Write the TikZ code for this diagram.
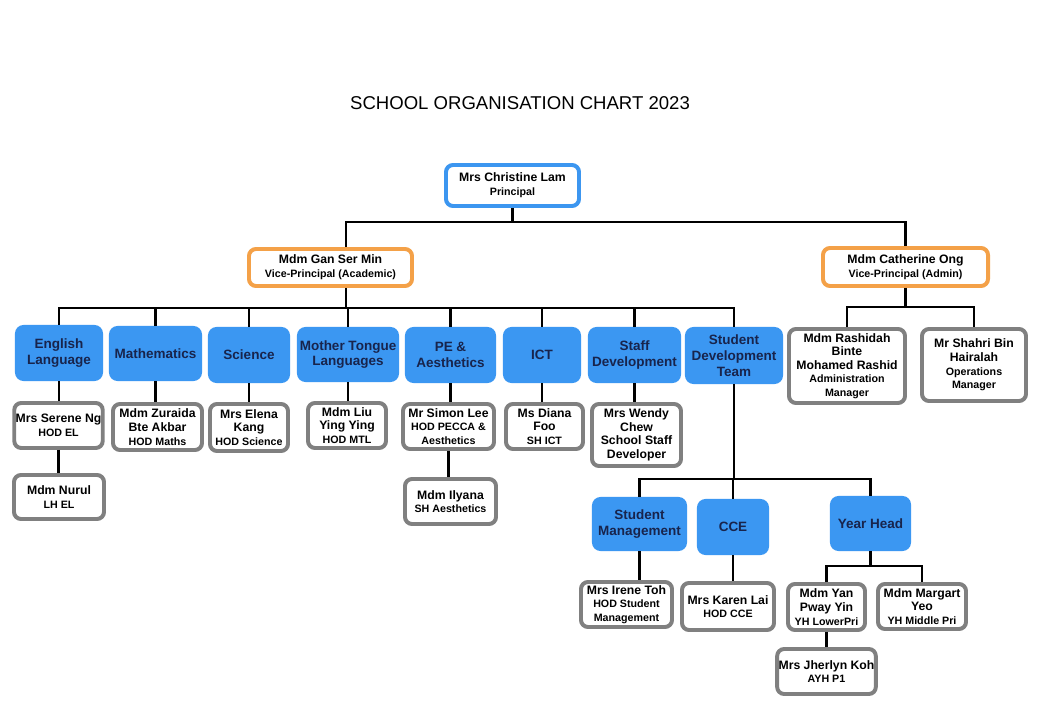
\documentclass[tikz,border=0pt]{standalone}
\usepackage{fontspec}
\setmainfont{Liberation Sans}
\usepackage{xcolor}
\definecolor{deptblue}{RGB}{59,151,242}
\definecolor{headblue}{RGB}{60,150,240}
\definecolor{vporange}{RGB}{244,161,72}
\definecolor{boxgray}{RGB}{128,128,128}
\definecolor{deptnavy}{RGB}{24,36,76}
\newcommand{\pname}[1]{{\fontsize{8.7}{9.7}\selectfont #1}}
\newcommand{\prole}[1]{{\fontsize{7.6}{9}\selectfont #1}}

\begin{document}
\begin{tikzpicture}[x=0.025cm, y=-0.025cm,
	box/.style={shape=rectangle, rounded corners=5pt, line width=2.8pt, fill=white, align=center, inner sep=1pt, font=\bfseries\fontsize{8.7}{9.7}\selectfont},
	lead/.style={box, draw=headblue},
	vp/.style={box, draw=vporange},
	staff/.style={box, draw=boxgray},
	dept/.style={shape=rectangle, rounded corners=6pt, fill=deptblue, align=center, inner sep=1pt, text=deptnavy, font=\bfseries\fontsize{9.6}{11.2}\selectfont},
	wire/.style={line width=1.6pt}]
	\fill[white] (0, 0) rectangle (1040, 720);
	\useasboundingbox (0, 0) rectangle (1040, 720);
	% Title:
	\node[font=\fontsize{13.2}{15}\selectfont] (title) at (520, 103){SCHOOL ORGANISATION CHART 2023};
	% Principal and vice-principals:
	\node[lead, minimum width=3.325cm, minimum height=1.025cm] (princ) at (512.5, 185.5){\pname{Mrs Christine Lam}\\\prole{Principal}};
	\node[vp, minimum width=4.075cm, minimum height=0.925cm] (vpa) at (330.5, 267.5){\pname{Mdm Gan Ser Min}\\\prole{Vice-Principal (Academic)}};
	\node[vp, minimum width=4.125cm, minimum height=0.95cm] (vpb) at (905.5, 267){\pname{Mdm Catherine Ong}\\\prole{Vice-Principal (Admin)}};
	% Departments:
	\node[dept, minimum width=2.2cm, minimum height=1.4cm] (eng) at (59, 353){English\\Language};
	\node[dept, minimum width=2.325cm, minimum height=1.375cm] (maths) at (155.5, 353.5){Mathematics};
	\node[dept, minimum width=2.05cm, minimum height=1.4cm] (sci) at (249, 355){Science};
	\node[dept, minimum width=2.55cm, minimum height=1.375cm] (mtl) at (348, 354.5){Mother Tongue\\Languages};
	\node[dept, minimum width=2.275cm, minimum height=1.4cm] (pe) at (450.5, 355){PE \&\\Aesthetics};
	\node[dept, minimum width=1.95cm, minimum height=1.4cm] (ict) at (542, 355){ICT};
	\node[dept, minimum width=2.325cm, minimum height=1.4cm] (stdev) at (634.5, 355){Staff\\Development};
	\node[dept, minimum width=2.45cm, minimum height=1.425cm] (sdt) at (734, 355.5){Student\\Development\\Team};
	\node[dept, minimum width=2.375cm, minimum height=1.35cm] (stm) at (639.5, 524){Student\\Management};
	\node[dept, minimum width=1.8cm, minimum height=1.4cm] (cce) at (733, 527){CCE};
	\node[dept, minimum width=2.025cm, minimum height=1.375cm] (yh) at (870.5, 523.5){Year Head};
	% Staff:
	\node[staff, minimum width=2.175cm, minimum height=1.125cm] (serene) at (58.5, 425.5){\pname{Mrs Serene Ng}\\\prole{HOD EL}};
	\node[staff, minimum width=2.25cm, minimum height=1.1cm] (nurul) at (59, 497){\pname{Mdm Nurul}\\\prole{LH EL}};
	\node[staff, minimum width=2.225cm, minimum height=1.15cm] (zuraida) at (157.5, 427){\pname{Mdm Zuraida}\\\pname{Bte Akbar}\\\prole{HOD Maths}};
	\node[staff, minimum width=1.95cm, minimum height=1.175cm] (elena) at (249, 427.5){\pname{Mrs Elena}\\\pname{Kang}\\\prole{HOD Science}};
	\node[staff, minimum width=1.95cm, minimum height=1.125cm] (liu) at (347, 425.5){\pname{Mdm Liu}\\\pname{Ying Ying}\\\prole{HOD MTL}};
	\node[staff, minimum width=2.275cm, minimum height=1.125cm] (simon) at (448.5, 426.5){\pname{Mr Simon Lee}\\\prole{HOD PECCA \&}\\\prole{Aesthetics}};
	\node[staff, minimum width=2.275cm, minimum height=1.125cm] (ilyana) at (450.5, 501.5){\pname{Mdm Ilyana}\\\prole{SH Aesthetics}};
	\node[staff, minimum width=1.925cm, minimum height=1.125cm] (diana) at (544.5, 426.5){\pname{Ms Diana}\\\pname{Foo}\\\prole{SH ICT}};
	\node[staff, minimum width=2.225cm, minimum height=1.55cm] (wendy) at (636.5, 435){\pname{Mrs Wendy}\\\pname{Chew}\\\pname{School Staff}\\\pname{Developer}};
	\node[staff, minimum width=2.9cm, minimum height=1.85cm] (rashidah) at (847, 366){\pname{Mdm Rashidah}\\\pname{Binte}\\\pname{Mohamed Rashid}\\\prole{Administration}\\\prole{Manager}};
	\node[staff, minimum width=2.6cm, minimum height=1.8cm] (shahri) at (974, 365){\pname{Mr Shahri Bin}\\\pname{Hairalah}\\\prole{Operations}\\\prole{Manager}};
	\node[staff, minimum width=2.275cm, minimum height=1.125cm] (irene) at (626.5, 604.5){\pname{Mrs Irene Toh}\\\prole{HOD Student}\\\prole{Management}};
	\node[staff, minimum width=2.3cm, minimum height=1.175cm] (karen) at (728, 606.5){\pname{Mrs Karen Lai}\\\prole{HOD CCE}};
	\node[staff, minimum width=1.925cm, minimum height=1.15cm] (yan) at (826.5, 607){\pname{Mdm Yan}\\\pname{Pway Yin}\\\prole{YH LowerPri}};
	\node[staff, minimum width=2.2cm, minimum height=1.125cm] (margart) at (922, 606.5){\pname{Mdm Margart}\\\pname{Yeo}\\\prole{YH Middle Pri}};
	\node[staff, minimum width=2.425cm, minimum height=1.125cm] (jherlyn) at (826.5, 671.5){\pname{Mrs Jherlyn Koh}\\\prole{AYH P1}};
	% Wires:
	\coordinate (busP) at (0, 222);
	\coordinate (busA) at (0, 308);
	\coordinate (busB) at (0, 307);
	\coordinate (busS) at (0, 479);
	\coordinate (busY) at (0, 566);
	\draw[wire] (princ.south) -- (princ.south |- busP);
	\draw[wire] ([xshift=0.38cm]vpa.north) |- (vpb.north |- busP) -- (vpb.north);
	\draw[wire] ([xshift=0.38cm]vpa.south) -- ([xshift=0.38cm]vpa.south |- busA);
	\draw[wire] (eng.north) |- (sdt.north |- busA) -- (sdt.north);
	\foreach \d in {maths, sci, mtl, pe, ict, stdev}
		\draw[wire] (\d.north) -- (\d.north |- busA);
	\draw[wire] (eng.south) -- (eng.south |- serene.north);
	\draw[wire] (serene.south) -- (serene.south |- nurul.north);
	\draw[wire] (maths.south) -- (maths.south |- zuraida.north);
	\draw[wire] (sci.south) -- (sci.south |- elena.north);
	\draw[wire] (mtl.south) -- (mtl.south |- liu.north);
	\draw[wire] (pe.south) -- (pe.south |- simon.north);
	\draw[wire] (simon.south) -- (simon.south |- ilyana.north);
	\draw[wire] (ict.south) -- (ict.south |- diana.north);
	\draw[wire] (stdev.south) -- (stdev.south |- wendy.north);
	\draw[wire] (vpb.south) -- (vpb.south |- busB);
	\draw[wire] (rashidah.north) |- (shahri.north |- busB) -- (shahri.north);
	\draw[wire] (sdt.south) -- (sdt.south |- busS);
	\draw[wire] (stm.north) |- (yh.north |- busS) -- (yh.north);
	\draw[wire] (cce.north) -- (cce.north |- busS);
	\draw[wire] (stm.south) -- (stm.south |- irene.north);
	\draw[wire] (cce.south) -- (cce.south |- karen.north);
	\draw[wire] (yh.south) -- (yh.south |- busY);
	\draw[wire] (yan.north) |- (margart.north |- busY) -- (margart.north);
	\draw[wire] (yan.south) -- (yan.south |- jherlyn.north);
\end{tikzpicture}
\end{document}
